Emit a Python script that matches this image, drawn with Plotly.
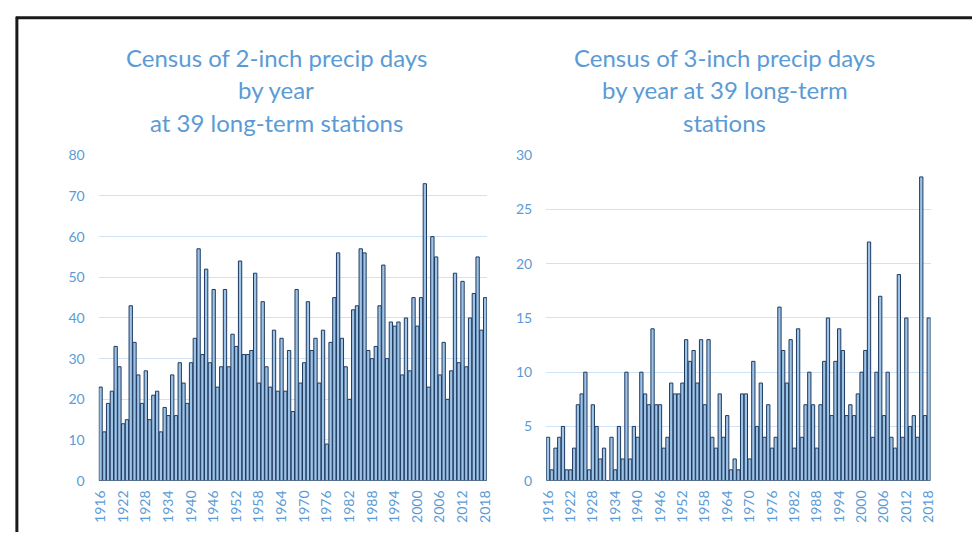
import plotly.graph_objects as go

years = list(range(1916, 2019))

days_2inch = [23, 12, 19, 22, 33, 28, 14, 15, 43, 34, 26, 19, 27, 15, 21, 22, 12, 18, 16, 26,
              16, 29, 24, 19, 29, 35, 57, 31, 52, 29, 47, 23,
              28, 47, 28, 36, 33, 54, 31, 31, 32, 51, 24, 44, 28, 23, 37, 22, 35, 22,
              32, 17, 47, 24, 29, 44, 32, 35, 24, 37, 9, 34, 45, 56, 35, 28, 20, 42, 43, 57,
              56, 32, 30, 33, 43, 53, 30, 39, 38, 39, 26, 40, 27, 45, 38, 45, 73, 23, 60, 55,
              26, 34, 20, 27, 51, 29, 49, 28, 40, 46, 55, 37, 45]

days_3inch = [4, 1, 3, 4, 5, 1, 1, 3, 7, 8, 10, 1, 7, 5, 2, 3, 0, 4, 1, 5,
              2, 10, 2, 5, 4, 10, 8, 7, 14, 7, 7, 3, 4,
              9, 8, 8, 9, 13, 11, 12, 9, 13, 7, 13, 4, 3, 8, 4, 6, 1, 2, 1, 8, 8, 2, 11,
              5, 9, 4, 7, 3, 4, 16, 12, 9,
              13, 3, 14, 4, 7, 10, 7, 3, 7, 11, 15, 6, 11, 14, 12, 6, 7, 6, 8, 10, 12, 22,
              4, 10, 17, 6, 10, 4, 3, 19, 4, 15, 5, 6, 4, 28, 6, 15]

tick_years = list(range(1916, 2019, 6))

title_left = ["Census of 2-inch precip days", "by year", "at 39 long-term stations"]
title_right = ["Census of 3-inch precip days", "by year at 39 long-term", "stations"]

W, H = 978, 540
BLUE = "#5B9BD5"
FILL = "#9DC3E6"
EDGE = "#1F3A60"
GRID = "#CFE3F5"
FONT = "Lato, Open Sans, sans-serif"

fig = go.Figure()
fig.add_trace(go.Bar(x=years, y=days_2inch, xaxis="x", yaxis="y",
                     marker=dict(color=FILL, line=dict(color=EDGE, width=1))))
fig.add_trace(go.Bar(x=years, y=days_3inch, xaxis="x2", yaxis="y2",
                     marker=dict(color=FILL, line=dict(color=EDGE, width=1))))

ydom = [(H - 487) / H, (H - 151) / H]
common_x = dict(tickmode="array", tickvals=tick_years, ticktext=[str(y) for y in tick_years],
                tickangle=-90, tickfont=dict(family=FONT, size=14, color=BLUE),
                range=[1915.5, 2018.5], showgrid=False, zeroline=False, showline=False,
                ticks="", ticklabelstandoff=6)
common_y = dict(showgrid=True, gridcolor=GRID, gridwidth=1, zeroline=False, showline=False,
                ticks="", tickfont=dict(family=FONT, size=14, color=BLUE), ticklabelstandoff=13)

fig.update_layout(
    width=W, height=H,
    margin=dict(l=0, r=0, t=0, b=0),
    paper_bgcolor="white", plot_bgcolor="white",
    showlegend=False, bargap=0.12,
    xaxis=dict(domain=[92 / W, 486 / W], anchor="y", **common_x),
    yaxis=dict(domain=ydom, anchor="x", range=[0, 80], tickvals=list(range(0, 81, 10)), **common_y),
    xaxis2=dict(domain=[546 / W, 936 / W], anchor="y2", **common_x),
    yaxis2=dict(domain=ydom, anchor="x2", range=[0, 30], tickvals=list(range(0, 31, 5)), **common_y),
)

line_y = [50, 83, 117]
for cx, lines in ((272, title_left), (727, title_right)):
    for text, ly in zip(lines, line_y):
        fig.add_annotation(x=cx / W, y=1 - ly / H, xref="paper", yref="paper",
                           text=text, showarrow=False, xanchor="center", yanchor="middle",
                           font=dict(family=FONT, size=24, color=BLUE))

# frame
fig.add_shape(type="line", xref="paper", yref="paper", x0=8 / W, x1=1, y0=1 - 9 / H, y1=1 - 9 / H,
              line=dict(color="#1a1a1a", width=3))
fig.add_shape(type="line", xref="paper", yref="paper", x0=9 / W, x1=9 / W, y0=0, y1=1 - 8 / H,
              line=dict(color="#1a1a1a", width=3))

post = ("document.documentElement.style.margin='0';document.documentElement.style.padding='0';"
        "document.documentElement.style.overflow='hidden';"
        "document.body.style.margin='0';document.body.style.padding='0';"
        "document.body.style.overflow='hidden';")

fig.write_html("out.html", config={"displayModeBar": False}, post_script=post)
